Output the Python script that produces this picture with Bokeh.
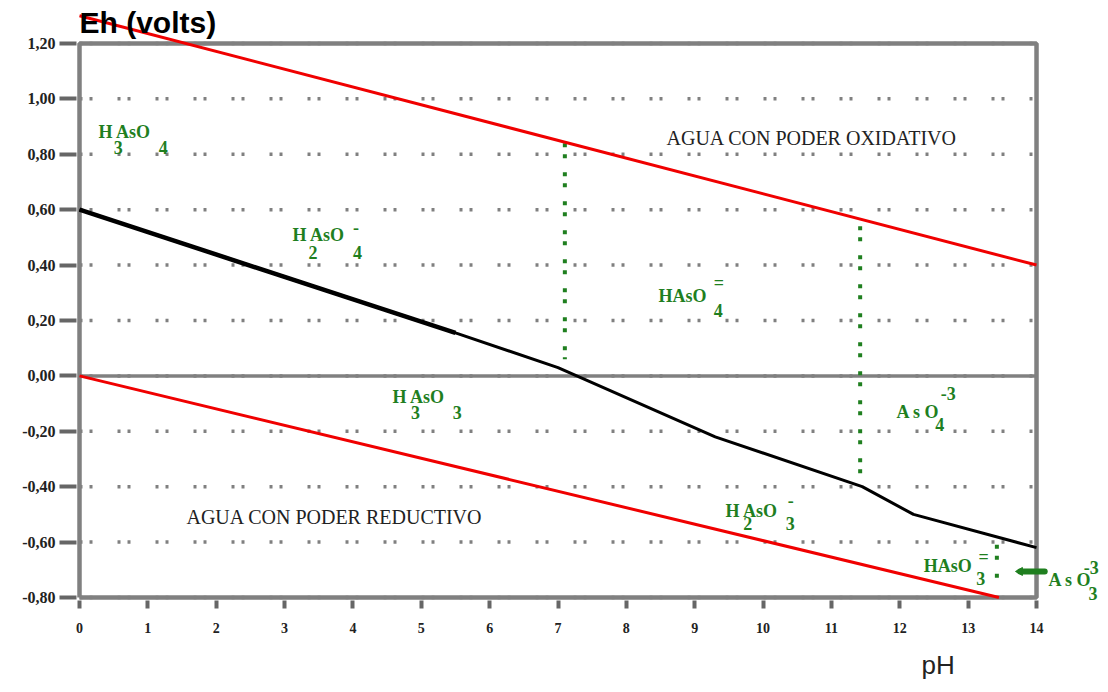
from bokeh.plotting import figure
from bokeh.models import FixedTicker, CustomJSTickFormatter, Label, Range1d, Title
from bokeh.embed import file_html
from bokeh.resources import INLINE

# ---- data ----
ph_ticks = list(range(0, 15))
eh_ticks = [-0.80, -0.60, -0.40, -0.20, 0.00, 0.20, 0.40, 0.60, 0.80, 1.00, 1.20]

# water stability limits
ox_ph = [0, 14]
ox_eh = [1.30, 0.40]
red_ph = [0, 13.45]
red_eh = [0.00, -0.80]

# As redox boundary (black)
as_ph = [0, 5.5, 7.0, 9.3, 11.45, 12.2, 14]
as_eh = [0.60, 0.155, 0.03, -0.22, -0.40, -0.50, -0.62]

# pKa boundaries (green dotted)
pk_ph = [7.1, 11.42, 13.42]
pk_top = [0.84, 0.54, -0.61]
pk_bot = [0.06, -0.36, -0.74]

# short boundary As O3^-3
arr_ph = [13.76, 14.12]
arr_eh = [-0.706, -0.706]

GREEN = "#1f7f1f"
GRAY = "#808080"
SERIF = "Liberation Serif"

p = figure(width=1108, height=692, output_backend="svg", toolbar_location=None,
           x_range=Range1d(-0.044, 15.053), y_range=Range1d(-0.8108, 1.355),
           min_border_left=76, min_border_right=0, min_border_top=0, min_border_bottom=92)
p.outline_line_color = None
p.background_fill_color = "white"
p.border_fill_color = "white"
p.grid.visible = False

# axes
p.yaxis.ticker = FixedTicker(ticks=eh_ticks)
p.yaxis.formatter = CustomJSTickFormatter(code="return tick.toFixed(2).replace('.', ',');")
p.xaxis.ticker = FixedTicker(ticks=ph_ticks)
for ax in (p.xaxis[0], p.yaxis[0]):
    ax.axis_line_color = None
    ax.major_tick_line_color = "#666666"
    ax.major_tick_line_width = 4
    ax.major_tick_in = 0
    ax.minor_tick_line_color = None
    ax.major_label_text_font = SERIF
    ax.major_label_text_font_style = "bold"
    ax.major_label_text_color = "#222222"
p.yaxis.major_tick_out = 17
p.yaxis.major_label_standoff = 4
p.yaxis.major_label_text_font_size = "16px"
p.xaxis.major_tick_out = 8
p.xaxis.major_label_standoff = 14
p.xaxis.major_label_text_font_size = "14px"

# pH axis title, placed under the right part of the axis
p.add_layout(Title(text="pH", align="left", offset=845, standoff=24, text_baseline="top",
                   text_font_size="26px", text_font="Liberation Sans",
                   text_font_style="normal", text_color="#222222"), "below")

# dotted grid lines limited to the frame
n = len(eh_ticks)
p.segment(x0=[ph_ticks[0]] * n, x1=[ph_ticks[-1]] * n, y0=eh_ticks, y1=eh_ticks,
          line_color=GRAY, line_width=3.5, line_dash="3 7 3 25")

# frame and zero line
fx = [ph_ticks[0], ph_ticks[-1], ph_ticks[-1], ph_ticks[0], ph_ticks[0]]
fy = [eh_ticks[0], eh_ticks[0], eh_ticks[-1], eh_ticks[-1], eh_ticks[0]]
p.line(fx, fy, line_color=GRAY, line_width=4.5)
p.line([ph_ticks[0], ph_ticks[-1]], [0, 0], line_color=GRAY, line_width=3.5)

# green boundaries
for x, t, b in zip(pk_ph, pk_top, pk_bot):
    p.line([x, x], [t, b], line_color=GREEN, line_width=4, line_dash="4 7 4 14")
p.line(arr_ph, arr_eh, line_color=GREEN, line_width=6, line_cap="round")
p.scatter([arr_ph[0]], [arr_eh[0]], marker="triangle", angle=1.5708, size=8,
          fill_color=GREEN, line_color=GREEN)

# water lines
p.line(ox_ph, ox_eh, line_color="#f00000", line_width=3)
p.line(red_ph, red_eh, line_color="#f00000", line_width=3)

# arsenic line
p.line(as_ph, as_eh, line_color="black", line_width=3)
p.line(as_ph[:2], as_eh[:2], line_color="black", line_width=4.5)

def lab(x, y, t, size="18px", color=GREEN, font=SERIF, style="bold", align="left"):
    p.add_layout(Label(x=x, y=y, text=t, text_font_size=size, text_color=color,
                       text_font=font, text_font_style=style, text_baseline="middle",
                       text_align=align))

# species labels
lab(0.278, 0.882, "H AsO"); lab(0.50, 0.826, "3"); lab(1.16, 0.826, "4")
lab(3.116, 0.507, "H AsO"); lab(3.35, 0.447, "2"); lab(4.0, 0.447, "4"); lab(4.0, 0.535, "-")
lab(8.47, 0.287, "HAsO"); lab(9.28, 0.337, "="); lab(9.28, 0.236, "4")
lab(4.579, -0.078, "H AsO"); lab(4.85, -0.132, "3"); lab(5.46, -0.132, "3")
lab(11.95, -0.132, "A s O"); lab(12.6, -0.064, "-3"); lab(12.52, -0.175, "4")
lab(9.45, -0.486, "H AsO"); lab(9.71, -0.533, "2"); lab(10.33, -0.533, "3"); lab(10.36, -0.45, "-")
lab(12.35, -0.688, "HAsO"); lab(13.15, -0.655, "="); lab(13.12, -0.731, "3")
lab(14.175, -0.738, "A s O"); lab(14.69, -0.691, "-3"); lab(14.76, -0.785, "3")

# region texts
lab(8.587, 0.857, "AGUA CON  PODER OXIDATIVO", size="20px", color="#222222", style="normal")
lab(1.565, -0.508, "AGUA CON  PODER REDUCTIVO", size="20px", color="#222222", style="normal")

# Eh axis title
lab(0.0, 1.276, "Eh (volts)", size="30px", color="black", font="Liberation Sans", style="bold")

open("out.html", "w").write(file_html(p, INLINE))
